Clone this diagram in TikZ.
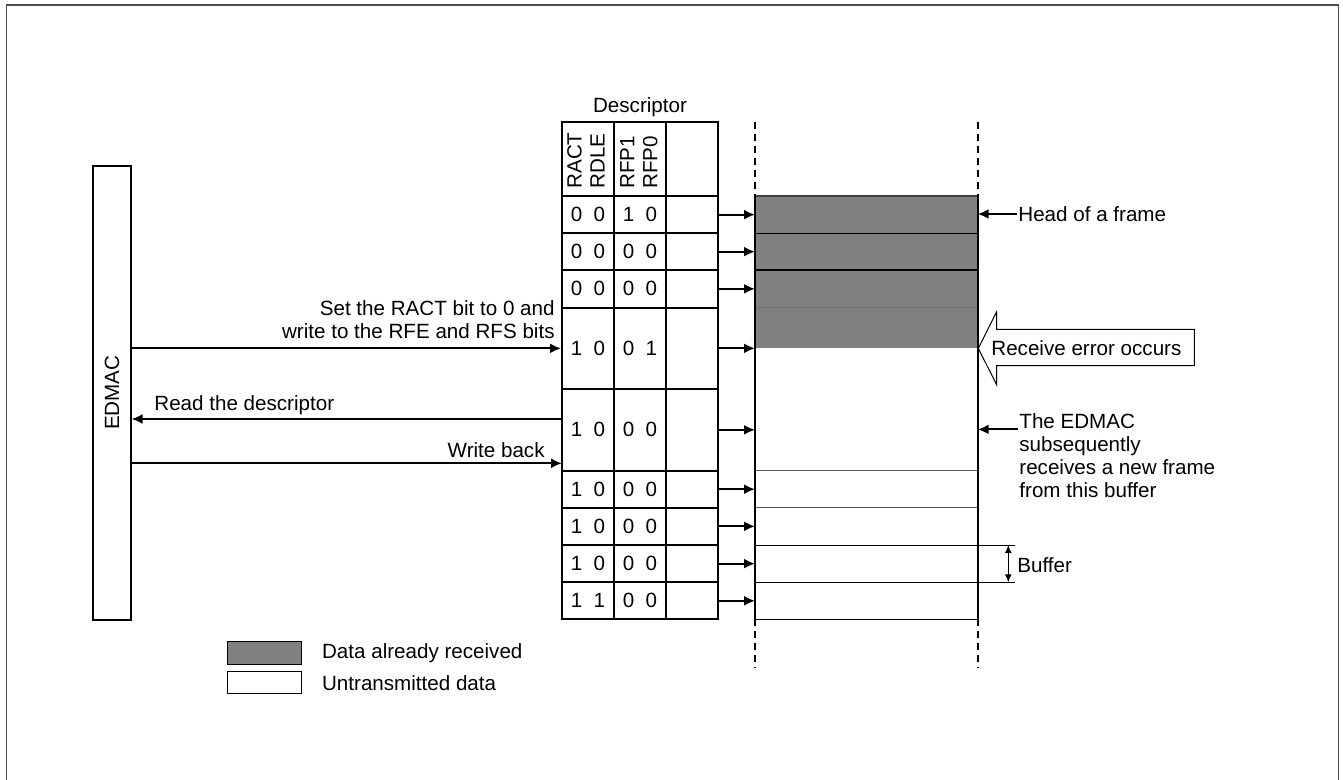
\documentclass[tikz,border=0pt]{standalone}
\usepackage{fontspec}
\setmainfont{Liberation Sans}
\usetikzlibrary{arrows.meta}
\definecolor{datagray}{HTML}{808080}
\newcommand{\bits}[2]{#1\hspace{0.55em}#2}

\begin{document}
\begin{tikzpicture}[x=0.5pt,y=-0.5pt,font=\fontsize{10.3}{11.5}\selectfont,
                    cell/.style={draw,line width=1pt,inner sep=0pt,minimum width=26pt},
                    arr/.style={-{Latex[length=5.5pt,width=5pt]},line width=1pt},
                    txt/.style={inner sep=0.5pt,align=left},
                    legbox/.style={draw,line width=0.6pt,minimum width=37.2pt,minimum height=11.3pt,inner sep=0pt}]
                    \useasboundingbox (0,0) rectangle (1343,780);
                    \draw[line width=0.75pt,black!70] (6.5,780) -- (6.5,5) -- (1338.5,5) -- (1338.5,780);
                    \node[draw,line width=0.9pt,minimum width=18.7pt,minimum height=227pt,inner sep=0pt] (edmac) at (112,392.7) {\rotatebox{90}{EDMAC}};
                    \node[inner sep=0pt] (desc) at (640,107) {Descriptor};
                    \node[cell,minimum height=37pt] (h1) at (588,159) {};
                    \node[cell,minimum height=37pt] (h2) at (640,159) {};
                    \node[cell,minimum height=37pt] (h3) at (692,159) {};
                    \node[rotate=90,anchor=west,align=left,inner sep=0pt] (hbits1) at (586,189) {RACT\\RDLE};
                    \node[rotate=90,anchor=west,align=left,inner sep=0pt] (hbits2) at (639,189) {RFP1\\RFP0};
                    \fill[datagray] (755,196) rectangle (977.7,347.7);
                    \draw[line width=0.6pt,black!75] (755,196) -- (977.7,196);
                    \foreach \y in {233.3,270}
                        \draw[line width=0.6pt] (755,\y) -- (977.7,\y);
                    \draw[line width=0.5pt,black!55] (755,307.7) -- (977.7,307.7);
                    \foreach \y in {470.7,507.7}
                        \draw[line width=0.5pt,black!65] (755,\y) -- (977.7,\y);
                    \foreach \y in {545,582.3}
                        \draw[line width=0.5pt] (755,\y) -- (1015,\y);
                    \draw[line width=0.5pt] (755,619.3) -- (977.7,619.3);
                    \foreach \x in {755,977.7}{
                        \draw[line width=0.9pt] (\x,196) -- (\x,619.3);
                        \draw[line width=0.9pt,dash pattern=on 3.5pt off 2.5pt] (\x,122) -- (\x,196);
                        \draw[line width=0.9pt,dash pattern=on 3.5pt off 2.5pt] (\x,619.3) -- (\x,668);
                    }
                    \coordinate (bR) at (977.7,0);
                    \foreach \yt/\yb/\xa/\xb/\xc/\xd [count=\i] in {196/233.3/0/0/1/0, 233.3/270/0/0/0/0, 270/307.7/0/0/0/0, 307.7/389/1/0/0/1, 389/470.7/1/0/0/0, 470.7/507.7/1/0/0/0, 507.7/545/1/0/0/0, 545/582.3/1/0/0/0, 582.3/619.3/1/1/0/0}{
                        \node[cell,minimum height={(\yb-\yt)*0.5}] (a\i) at (588,{(\yt+\yb)/2}) {\bits{\xa}{\xb}};
                        \node[cell,minimum height={(\yb-\yt)*0.5}] (f\i) at (640,{(\yt+\yb)/2}) {\bits{\xc}{\xd}};
                        \node[cell,minimum height={(\yb-\yt)*0.5}] (c\i) at (692,{(\yt+\yb)/2}) {};
                        \coordinate (b\i) at (755,{(\yt+\yb)/2});
                        \draw[arr] (c\i.east) -- (b\i);
                    }
                    \node[txt,anchor=east,align=right] (setnote) at (556,319.5) {Set the RACT bit to 0 and\\write to the RFE and RFS bits};
                    \draw[arr] (edmac.east |- a4.west) -- (a4.west);
                    \coordinate (rd) at (562,419);
                    \draw[arr] (rd) -- (rd -| edmac.east);
                    \node[txt,anchor=west] (readnote) at (153,405) {Read the descriptor};
                    \coordinate (wb) at (562,463.3);
                    \draw[arr] (wb -| edmac.east) -- (wb);
                    \node[txt,anchor=east] (wbnote) at (546,450) {Write back};
                    \node[txt,anchor=west] (head) at (1017,214) {Head of a frame};
                    \draw[arr] (head.west) -- (head.west -| bR);
                    \draw[line width=0.5pt,fill=white] (978.3,348.3) -- (996.7,311.7) -- (996.7,329.3) -- (1194.3,329.3) -- (1194.3,365.7) -- (996.7,365.7) -- (996.7,385) -- cycle;
                    \node[txt,anchor=west] (err) at (990,348) {Receive error occurs};
                    \node[txt,anchor=north west] (note) at (1018,412) {The EDMAC\\subsequently\\receives a new frame\\from this buffer};
                    \path ([yshift=-8.7pt]note.north west) coordinate (nt);
                    \draw[arr] (nt) -- (nt -| bR);
                    \coordinate (bt) at (1008.3,545);
                    \coordinate (bb) at (1008.3,582.3);
                    \draw[{Latex[length=4pt,width=3.5pt]}-{Latex[length=4pt,width=3.5pt]},line width=0.7pt] (bt) -- (bb);
                    \node[txt,anchor=west] (buf) at (1016,565) {Buffer};
                    \node[legbox,fill=datagray] (lg1) at (264.5,652.8) {};
                    \node[legbox,fill=white] (lg2) at (264.5,682.5) {};
                    \node[txt,anchor=west] (lt1) at (320.7,653.3) {Data already received};
                    \node[txt,anchor=west] (lt2) at (320.7,683) {Untransmitted data};
                \end{tikzpicture}
\end{document}
